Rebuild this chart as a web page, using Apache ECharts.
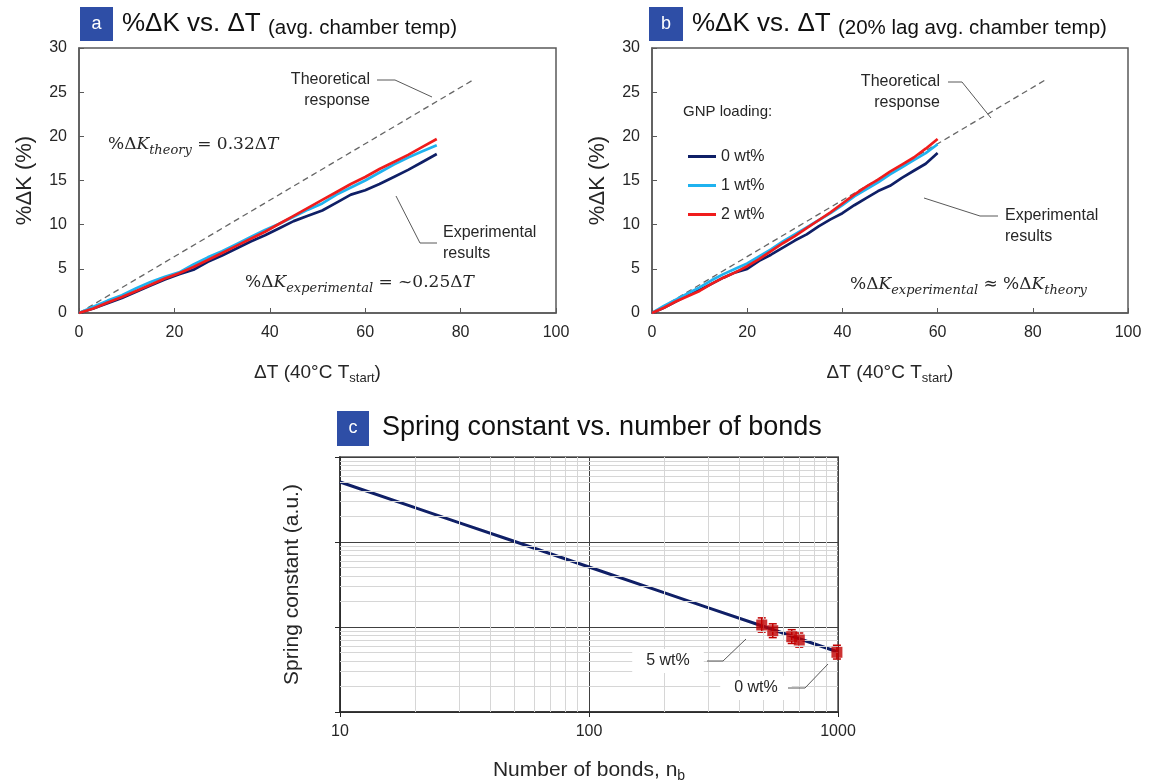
<!DOCTYPE html>
<html>
<head>
<meta charset="utf-8">
<script src="https://cdn.jsdelivr.net/npm/echarts@6/dist/echarts.min.js"></script>
<style>html,body{margin:0;padding:0;background:#fff}#c{width:1153px;height:781px}</style>
</head>
<body>
<div id="c"></div>
<script>
// ---------- DATA ----------
// Panel a: ΔT (avg. chamber temp)
const xA = [0,3,6,9,12,15,18,21,24,27,30,33,36,39,42,45,48,51,54,57,60,63,66,69,72,75];
const a_0wt = [0,0.5,1.1,1.7,2.4,3.1,3.8,4.4,4.9,5.8,6.5,7.3,8.1,8.8,9.6,10.4,11.0,11.6,12.5,13.4,13.9,14.6,15.4,16.2,17.1,18.0];
const a_1wt = [0,0.7,1.4,2.0,2.8,3.5,4.1,4.6,5.5,6.3,7.0,7.8,8.6,9.4,10.1,10.9,11.7,12.4,13.4,14.2,15.0,15.9,16.8,17.6,18.3,19.0];
const a_2wt = [0,0.5,1.2,1.8,2.5,3.2,3.9,4.5,5.2,6.0,6.8,7.6,8.4,9.2,10.1,11.0,11.9,12.8,13.7,14.6,15.4,16.3,17.1,17.9,18.8,19.7];
// Panel b: ΔT (20% lag avg. chamber temp)
const xB = [0,2.5,5,7.5,10,12.5,15,17.5,20,22.5,25,27.5,30,32.5,35,37.5,40,42.5,45,47.5,50,52.5,55,57.5,60];
const b_0wt = [0,0.6,1.3,2.0,2.6,3.3,4.0,4.6,5.0,5.9,6.6,7.4,8.2,8.9,9.8,10.6,11.3,12.2,13.0,13.8,14.4,15.3,16.1,16.9,18.1];
const b_1wt = [0,0.8,1.5,2.2,2.9,3.7,4.4,5.0,5.6,6.4,7.2,8.1,8.9,9.7,10.5,11.3,12.2,13.2,14.0,14.8,15.7,16.5,17.3,18.1,19.1];
const b_2wt = [0,0.6,1.3,1.9,2.5,3.3,4.0,4.6,5.3,6.1,7.0,7.9,8.7,9.6,10.5,11.4,12.4,13.4,14.3,15.1,16.0,16.8,17.6,18.6,19.7];
// Theoretical response (dashed)
const theoryX = [0, 83];
const theoryY = [0, 26.5];
// Panel c: spring constant vs number of bonds (log-log)
const bondsLine = [10,20,30,50,100,200,300,500,1000];
const springLine = [508,254,169,102,50.8,25.4,16.9,10.2,5.08];
const bondsPts = [494,547,652,699,990];
const springPts = [10.56,9.05,7.69,7.03,5.04];
const errLow  = [8.7,7.5,6.4,5.8,4.2];
const errHigh = [12.8,10.9,9.3,8.5,6.1];
// Tick labels / names
const seriesNames = ['0 wt%','1 wt%','2 wt%'];
const colors = ['#0f1f66','#1fb2ef','#f01c1c'];

// ---------- BUILD ----------
const zip = (xs, ys) => xs.map((x,i)=>[x, ys[i]]);
const FONT = 'Liberation Sans';
const TXT = '#262626';

function linAxisX(gi){
  return {gridIndex:gi,type:'value',min:0,max:100,interval:20,
    axisLine:{show:true,onZero:false,lineStyle:{color:'#595959',width:1.5}},
    axisTick:{show:true,inside:true,length:5,lineStyle:{color:'#595959',width:1}},
    axisLabel:{fontSize:16,color:TXT,margin:12,fontFamily:FONT},
    splitLine:{show:false},
    name:'{m|ΔT (40°C T}{s|start}{m|)}',nameLocation:'middle',nameGap:48,
    nameTextStyle:{fontFamily:FONT,color:TXT,fontSize:19,
      rich:{m:{fontSize:19,color:TXT,fontFamily:FONT,lineHeight:24},
            s:{fontSize:13,color:TXT,fontFamily:FONT,lineHeight:12,verticalAlign:'bottom'}}}
  };
}
function linAxisY(gi){
  return {gridIndex:gi,type:'value',min:0,max:30,interval:5,
    axisLine:{show:true,onZero:false,lineStyle:{color:'#595959',width:1.5}},
    axisTick:{show:true,inside:true,length:5,lineStyle:{color:'#595959',width:1}},
    axisLabel:{fontSize:16,color:TXT,margin:12,fontFamily:FONT},
    splitLine:{show:false},
    name:'%ΔK (%)',nameLocation:'middle',nameGap:43,
    nameTextStyle:{fontFamily:FONT,color:TXT,fontSize:22}
  };
}

const series = [];
function addPanel(gi, xs, ys0, ys1, ys2){
  series.push({type:'line',name:'theory',xAxisIndex:gi,yAxisIndex:gi,data:zip(theoryX,theoryY),
    showSymbol:false,lineStyle:{color:'#666',width:1.3,type:[6,4]},z:2,silent:true});
  [ys0,ys1,ys2].forEach((ys,k)=>{
    series.push({type:'line',name:seriesNames[k],xAxisIndex:gi,yAxisIndex:gi,data:zip(xs,ys),
      showSymbol:false,color:colors[k],lineStyle:{color:colors[k],width:2.7},z:3+k});
  });
}
addPanel(0, xA, a_0wt, a_1wt, a_2wt);
addPanel(1, xB, b_0wt, b_1wt, b_2wt);

// panel c minor grid lines
const minorX = [], minorY = [];
[10,100].forEach(d=>{for(let m=2;m<=9;m++) minorX.push(m*d);});
[1,10,100].forEach(d=>{for(let m=2;m<=9;m++) minorY.push(m*d);});
series.push({type:'line',name:'grid',xAxisIndex:2,yAxisIndex:2,data:[],z:1,silent:true,
  markLine:{silent:true,symbol:'none',animation:false,label:{show:false},
    lineStyle:{type:'solid',color:'#d6d6d6',width:1},
    data:[...minorX.map(v=>({xAxis:v})), ...minorY.map(v=>({yAxis:v}))]}});
series.push({type:'line',name:'model',xAxisIndex:2,yAxisIndex:2,data:zip(bondsLine,springLine),
  showSymbol:false,lineStyle:{color:'#0f1f66',width:3},z:3,silent:true});
series.push({type:'custom',name:'err',xAxisIndex:2,yAxisIndex:2,z:4,
  data:bondsPts.map((n,i)=>[n,springPts[i],errLow[i],errHigh[i]]),
  encode:{x:0,y:[1,2,3]},
  renderItem:function(params, api){
    const x = api.value(0);
    const p1 = api.coord([x, api.value(2)]);
    const p2 = api.coord([x, api.value(3)]);
    const c = 4, st = {stroke:'#c00000',lineWidth:1.5};
    return {type:'group',children:[
      {type:'line',shape:{x1:p1[0],y1:p1[1],x2:p2[0],y2:p2[1]},style:st},
      {type:'line',shape:{x1:p1[0]-c,y1:p1[1],x2:p1[0]+c,y2:p1[1]},style:st},
      {type:'line',shape:{x1:p2[0]-c,y1:p2[1],x2:p2[0]+c,y2:p2[1]},style:st}
    ]};
  }});
series.push({type:'scatter',name:'pts',xAxisIndex:2,yAxisIndex:2,z:5,
  data:zip(bondsPts,springPts),symbol:'rect',symbolSize:11,itemStyle:{color:'#c00000'}});

// ---------- GRAPHICS (titles / annotations) ----------
const BLUE = '#2e4ea6';
const mathRich = {
  u:{fontFamily:'DejaVu Serif',fontSize:17,lineHeight:24,fill:TXT},
  i:{fontFamily:'DejaVu Serif',fontStyle:'italic',fontSize:17,lineHeight:24,fill:TXT},
  s:{fontFamily:'DejaVu Serif',fontStyle:'italic',fontSize:13,lineHeight:13,verticalAlign:'bottom',fill:TXT}
};
const titleRich = {
  b:{fontFamily:FONT,fontSize:26,lineHeight:30,fill:'#111'},
  s:{fontFamily:FONT,fontSize:20.5,lineHeight:26,verticalAlign:'bottom',fill:'#111'}
};
function box(x,y,w,h,letter){
  return [
    {type:'rect',shape:{x:x,y:y,width:w,height:h},style:{fill:BLUE},z:10},
    {type:'text',x:x+w/2,y:y+h/2,style:{text:letter,fontFamily:FONT,fontSize:18,fill:'#fff',align:'center',verticalAlign:'middle'},z:11}
  ];
}
function txt(x,y,text,opt){
  return Object.assign({type:'text',x:x,y:y,z:10,style:Object.assign({text:text,fontFamily:FONT,fontSize:16,fill:TXT,align:'left',verticalAlign:'middle'},opt||{})});
}
function leader(points){
  return {type:'polyline',shape:{points:points},style:{stroke:'#595959',lineWidth:1,fill:null},z:10};
}
const graphic = [
  ...box(80,7,33,34,'a'),
  txt(122,24,'{b|%ΔK vs. ΔT }{s|(avg. chamber temp)}',{rich:titleRich}),
  ...box(649,7,34,34,'b'),
  txt(692,24,'{b|%ΔK vs. ΔT }{s|(20% lag avg. chamber temp)}',{rich:titleRich}),
  ...box(337,411,32,35,'c'),
  txt(382,428,'Spring constant vs. number of bonds',{fontSize:27,fill:'#111'}),
  // panel a annotations
  txt(370,80,'Theoretical',{align:'right'}),
  txt(370,101,'response',{align:'right'}),
  leader([[377,80],[395,80],[432,97]]),
  txt(108,145,'{u|%Δ}{i|K}{s|theory}{u| = 0.32Δ}{i|T}',{rich:mathRich}),
  txt(443,233,'Experimental'),
  txt(443,254,'results'),
  leader([[437,243],[420,243],[396,196]]),
  txt(245,283,'{u|%Δ}{i|K}{s|experimental}{u| = ~0.25Δ}{i|T}',{rich:mathRich}),
  // panel b annotations
  txt(683,112,'GNP loading:',{fontSize:15}),
  txt(940,82,'Theoretical',{align:'right'}),
  txt(940,103,'response',{align:'right'}),
  leader([[948,82],[962,82],[991,118]]),
  txt(1005,216,'Experimental'),
  txt(1005,237,'results'),
  leader([[998,216],[980,216],[924,198]]),
  txt(850,285,'{u|%Δ}{i|K}{s|experimental}{u| ≈ %Δ}{i|K}{s|theory}',{rich:mathRich}),
  // panel c annotations
  txt(668,661,'5 wt%',{align:'center',backgroundColor:'#fff',padding:[4,14]}),
  leader([[707,661],[723,661],[746,639]]),
  txt(756,688,'0 wt%',{align:'center',backgroundColor:'#fff',padding:[4,14]}),
  leader([[788,688],[805,688],[828,664]])
];

const option = {
  animation:false,
  backgroundColor:'#ffffff',
  textStyle:{fontFamily:FONT},
  grid:[
    {left:79,top:48,width:477,height:265,show:true,borderColor:'#595959',borderWidth:1.5,backgroundColor:'rgba(0,0,0,0)',outerBoundsMode:'none'},
    {left:652,top:48,width:476,height:265,show:true,borderColor:'#595959',borderWidth:1.5,backgroundColor:'rgba(0,0,0,0)',outerBoundsMode:'none'},
    {left:340,top:457,width:498,height:255,show:true,borderColor:'#808080',borderWidth:2,backgroundColor:'rgba(0,0,0,0)',outerBoundsMode:'none'}
  ],
  xAxis:[
    linAxisX(0), linAxisX(1),
    {gridIndex:2,type:'log',logBase:10,min:10,max:1000,
      axisLine:{show:true,onZero:false,lineStyle:{color:'#262626',width:1.5}},
      axisTick:{show:true,inside:false,length:5,lineStyle:{color:'#262626'}},
      axisLabel:{fontSize:16,color:TXT,margin:12,fontFamily:FONT,formatter:function(v){return String(Math.round(v));}},
      splitLine:{show:true,lineStyle:{color:'#404040',width:1}},
      minorTick:{show:false},minorSplitLine:{show:false},
      name:'{m|Number of bonds, n}{s|b}',nameLocation:'middle',nameGap:45,
      nameTextStyle:{fontFamily:FONT,color:TXT,fontSize:21,
        rich:{m:{fontSize:21,color:TXT,fontFamily:FONT,lineHeight:26},
              s:{fontSize:14,color:TXT,fontFamily:FONT,lineHeight:14,verticalAlign:'bottom'}}}}
  ],
  yAxis:[
    linAxisY(0), linAxisY(1),
    {gridIndex:2,type:'log',logBase:10,min:1,max:1000,
      axisLine:{show:true,onZero:false,lineStyle:{color:'#262626',width:1.5}},
      axisTick:{show:true,inside:false,length:5,lineStyle:{color:'#262626'}},
      axisLabel:{show:false},
      splitLine:{show:true,lineStyle:{color:'#404040',width:1}},
      minorTick:{show:false},minorSplitLine:{show:false},
      name:'Spring constant (a.u.)',nameLocation:'middle',nameGap:37,
      nameTextStyle:{fontFamily:FONT,color:TXT,fontSize:21}}
  ],
  legend:{show:true,data:seriesNames,orient:'vertical',left:688,top:148,padding:0,
    icon:'rect',itemWidth:28,itemHeight:3,itemGap:12,selectedMode:false,
    textStyle:{fontSize:16,color:TXT,fontFamily:FONT,lineHeight:17}},
  series:series,
  graphic:graphic
};
const chart = echarts.init(document.getElementById('c'),null,{renderer:'canvas'});
chart.setOption(option);
</script>
</body>
</html>
